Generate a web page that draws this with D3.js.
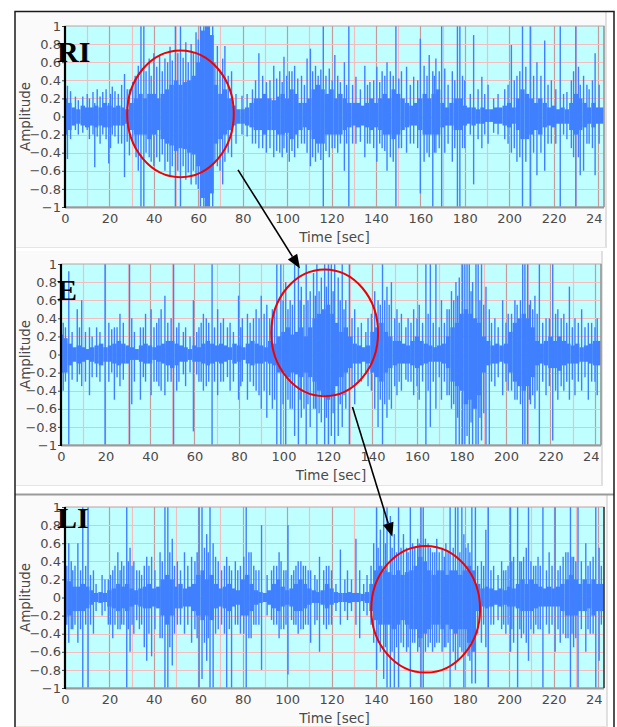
<!DOCTYPE html>
<html>
<head>
<meta charset="utf-8">
<script src="https://cdn.jsdelivr.net/npm/d3@7"></script>
<style>
  body { margin: 0; background: #fff; }
  svg { display: block; }
  text { font-family: "DejaVu Sans", Verdana, sans-serif; }
</style>
</head>
<body>
<div id="chart"></div>
<script>
// time bins of the dense part of each trace (seconds)
const binTimes = d3.range(0, 241, 2);
const tMax = 242.7;

// RI trace: upper / lower envelope of the dense body, per 2 s bin
const riTop = [
  .2, .15, .1, .08, .12, .1, .1, .12, .1, .15,
  .12, .1, .12, .1, .08, .15, .2, .25, .2, .25,
  .25, .2, .25, .3, .35, .4, .35, .38, .4, .45,
  .6, .95, 1, .9, .35, .25, .3, .2, .12, .08,
  .08, .1, .15, .2, .2, .25, .2, .18, .22, .25,
  .2, .3, .25, .15, .15, .2, .3, .35, .3, .25,
  .3, .2, .25, .2, .15, .15, .15, .12, .15, .2,
  .15, .2, .25, .2, .3, .25, .2, .15, .12, .15,
  .2, .25, .2, .25, .3, .15, .1, .15, .2, .2,
  .12, .1, .1, .08, .1, .08, .08, .1, .1, .12,
  .15, .1, .2, .3, .25, .2, .15, .2, .15, .1,
  .12, .08, .1, .08, .15, .25, .2, .15, .1, .15,
  .1
];
const riBot = [
  -.2, -.15, -.1, -.08, -.1, -.12, -.1, -.12, -.1, -.12,
  -.12, -.1, -.1, -.1, -.08, -.15, -.2, -.2, -.2, -.25,
  -.2, -.15, -.25, -.3, -.32, -.38, -.35, -.36, -.4, -.42,
  -.55, -.9, -1, -.85, -.3, -.25, -.2, -.15, -.1, -.08,
  -.08, -.1, -.12, -.15, -.15, -.2, -.15, -.15, -.2, -.2,
  -.18, -.25, -.2, -.15, -.12, -.15, -.25, -.3, -.3, -.2,
  -.2, -.2, -.2, -.15, -.12, -.1, -.12, -.1, -.12, -.15,
  -.12, -.15, -.2, -.2, -.25, -.2, -.15, -.12, -.1, -.1,
  -.15, -.2, -.2, -.2, -.2, -.12, -.1, -.1, -.15, -.15,
  -.1, -.08, -.1, -.08, -.08, -.06, -.06, -.08, -.08, -.1,
  -.12, -.08, -.15, -.25, -.25, -.2, -.15, -.2, -.12, -.1,
  -.12, -.08, -.08, -.08, -.15, -.2, -.15, -.12, -.08, -.12,
  -.08
];
// RI single spikes: [time, max, min]
const riSpikes = [
  [1.1, .34, -.47], [4.7, .22, -.15], [10, .25, -.15], [12.6, .27, -.2], [13.4, .15, -.56],
  [17, .27, -.2], [19.7, .15, -.52], [21.3, .33, -.2], [24, .25, -.3], [26.8, .47, -.67],
  [29, .3, -.43], [31.6, .45, -.35], [33, .56, -.6], [34.2, 1, -1], [35.5, 1, -1],
  [37.9, .64, -.45], [40, .7, -.55], [42.6, .68, -.5], [45, .64, -.6], [47.3, .77, -.65],
  [49.7, 1, -1], [52, 1, -1], [54.4, .82, -.7], [56.8, .8, -.75], [59, .93, -.75],
  [61, 1, -1], [62.5, 1, -1], [63.5, 1, -1], [65, 1, -1], [66.5, 1, -1],
  [68.6, .78, -.55], [71, .64, -.75], [72, .78, -.5], [75, .5, -.45], [79.7, .23, -.2],
  [84.4, .3, -.3], [87.3, .7, -.35], [90.7, .38, -.4], [94, .56, -.45], [96.7, .5, -.4],
  [98.6, .66, -.35], [101, .5, -.5], [103.4, .56, -.45], [106.5, .45, -.3], [109, .64, -.4],
  [110.5, .75, -.55], [112.8, .56, -.5], [116.3, 1, -1], [119, .53, -.45], [121.5, .68, -.35],
  [124, .38, -.3], [125.8, .6, -.6], [127.8, 1, -1], [131, .44, -.3], [135, .56, -.45],
  [137.3, .38, -.3], [140.4, .55, -.5], [142.8, .5, -.35], [145, .6, -.6], [149, 1, -1],
  [151.5, .5, -.35], [153.8, .55, -.4], [157, .44, -.3], [160, .86, -.85], [161.7, .56, -.5],
  [164, .68, -.45], [165.6, .5, -1], [167, .64, -.4], [169.6, 1, -1], [171, .53, -.4],
  [174.4, .5, -.5], [176.7, 1, -1], [177.8, 1, -1], [180, .4, -.35], [184, .9, -.75],
  [187.7, .44, -.35], [190.5, .35, -.3], [195, .25, -.2], [198, .3, -.25], [201, .79, -.4],
  [203.5, .45, -.5], [206, 1, -1], [209.5, 1, -1], [212.5, .6, -.65], [216, .84, -.6],
  [219, .4, -.3], [223, 1, -1], [226, .27, -.25], [230, 1, -1], [232, .35, -.65],
  [233.5, .45, -.6], [236, .3, -.3], [238.7, .7, -.65]
];
// RI smaller bursts standing out of the body
const riMinor = [
  [2.5, .28, -.25], [6, .18, -.2], [8, .22, -.18], [11, .2, -.25], [14.5, .3, -.22],
  [15.8, .22, -.3], [18.5, .3, -.25], [20.5, .25, -.35], [22.5, .28, -.22], [25.5, .35, -.3],
  [28, .3, -.28], [30.5, .38, -.3], [32, .42, -.45], [36.5, .5, -.4], [38.8, .45, -.5],
  [41.3, .55, -.45], [43.8, .5, -.42], [46.2, .6, -.5], [48.3, .62, -.55], [50.8, .7, -.6],
  [53.2, .65, -.55], [55.5, .6, -.62], [57.8, .7, -.6], [60, .85, -.8], [67.5, .6, -.5],
  [69.8, .5, -.6], [73.5, .45, -.4], [77, .25, -.3], [82, .25, -.22], [85.8, .4, -.3],
  [89, .45, -.35], [92.3, .4, -.35], [95.3, .42, -.38], [97.8, .38, -.45], [99.8, .45, -.4],
  [102.2, .5, -.38], [104.8, .42, -.35], [107.8, .35, -.3], [111.5, .5, -.45], [114, .45, -.4],
  [115.2, .52, -.48], [117.5, .45, -.38], [120.3, .4, -.35], [122.8, .45, -.4], [126.8, .35, -.3],
  [129.5, .35, -.3], [133, .3, -.28], [136.2, .35, -.3], [139, .4, -.35], [141.7, .38, -.3],
  [144, .45, -.38], [146.5, .5, -.45], [147.8, .45, -.5], [150.3, .42, -.35], [155.5, .35, -.3],
  [158.8, .4, -.35], [163, .45, -.4], [166.3, .45, -.4], [168.5, .5, -.35], [172.5, .35, -.3],
  [175.5, .4, -.35], [179, .45, -.35], [182.5, .25, -.2], [186, .3, -.25], [189, .25, -.2],
  [193, .2, -.18], [199.5, .35, -.3], [202.3, .4, -.35], [204.8, .5, -.45], [207.5, .55, -.5],
  [211, .45, -.4], [214.3, .45, -.4], [217.5, .35, -.3], [221, .3, -.3], [224.5, .25, -.2],
  [228, .4, -.35], [229, .5, -.45], [231.2, .55, -.45], [235, .35, -.3], [237.5, .4, -.35],
  [240.5, .35, -.3]
];

// E trace
const eTop = [
  .22, .18, .12, .08, .1, .08, .06, .08, .1, .12,
  .08, .1, .12, .15, .12, .1, .08, .06, .1, .12,
  .1, .08, .1, .12, .15, .15, .12, .1, .08, .06,
  .1, .08, .12, .15, .12, .1, .12, .1, .08, .12,
  .1, .08, .12, .15, .12, .1, .08, .15, .12, .2,
  .25, .3, .22, .25, .3, .2, .3, .4, .45, .5,
  .55, .45, .35, .25, .3, .2, .12, .1, .08, .1,
  .25, .3, .35, .25, .2, .15, .15, .12, .1, .15,
  .2, .15, .12, .1, .08, .1, .12, .2, .3, .35,
  .45, .5, .45, .4, .35, .2, .15, .1, .12, .1,
  .12, .25, .35, .4, .45, .4, .3, .15, .12, .15,
  .2, .15, .2, .15, .12, .1, .12, .08, .1, .12,
  .15
];
const eBot = [
  -.2, -.2, -.12, -.08, -.1, -.08, -.06, -.08, -.1, -.12,
  -.08, -.08, -.1, -.12, -.1, -.1, -.06, -.06, -.08, -.1,
  -.1, -.06, -.08, -.1, -.12, -.15, -.12, -.08, -.08, -.06,
  -.08, -.08, -.1, -.12, -.1, -.08, -.1, -.08, -.06, -.1,
  -.08, -.06, -.1, -.12, -.1, -.1, -.08, -.1, -.12, -.2,
  -.2, -.25, -.2, -.22, -.25, -.2, -.25, -.3, -.4, -.45,
  -.5, -.45, -.35, -.25, -.2, -.15, -.1, -.1, -.08, -.1,
  -.2, -.25, -.3, -.2, -.15, -.12, -.1, -.1, -.1, -.12,
  -.15, -.12, -.1, -.08, -.08, -.08, -.1, -.15, -.3, -.35,
  -.4, -.55, -.5, -.6, -.45, -.2, -.12, -.1, -.1, -.08,
  -.1, -.2, -.3, -.35, -.4, -.35, -.25, -.12, -.1, -.12,
  -.15, -.15, -.18, -.12, -.1, -.1, -.1, -.08, -.08, -.1,
  -.12
];
const eSpikes = [
  [1, .35, -.4], [3.5, .92, -1], [7.3, .5, -.3], [9.3, .6, -.35], [12.8, .3, -.45],
  [16, .3, -.25], [19.8, 1, -1], [21.5, .35, -.3], [24, .3, -.5], [26.5, .45, -.35],
  [30.8, 1, -1], [31.8, .4, -.55], [35.7, .3, -.5], [38, .45, -.3], [40.5, .5, -.45],
  [43, .35, -.3], [45, .5, -.4], [46.7, .65, -.45], [50.6, 1, -1], [53, .35, -.3],
  [56, .3, -.35], [59.5, .6, -.85], [62, .3, -.3], [64, .45, -.4], [66.4, .35, -.3],
  [67.9, 1, -1], [70.4, .5, -.45], [73, .4, -.3], [76, .35, -.4], [79.8, .65, -.5],
  [81.5, .4, -.3], [83.8, .45, -.5], [87.7, .5, -.4], [90, .65, -.6], [92.5, .55, -.7],
  [95, .5, -.6], [97, 1, -1], [98.8, 1, -1], [101, .8, -1], [103, .6, -.6],
  [105, 1, -.9], [106.7, 1, -1], [108, .75, -.7], [110.2, 1, -1], [112, .7, -.8],
  [113.5, .9, -.6], [115, 1, -1], [117, .85, -.75], [118.5, 1, -1], [120.2, 1, -1],
  [121.5, 1, -.9], [123, 1, -1], [124.6, .85, -.9], [126.4, 1, -.8], [128, .6, -.6],
  [129.6, 1, -1], [132, .5, -.55], [135, .35, -.3], [138, .4, -.35], [141, .7, -.6],
  [142.5, .6, -.8], [144.5, 1, -1], [146.5, .75, -.7], [148.5, .8, -.6], [151, .5, -.45],
  [153, .45, -.4], [156, .4, -.3], [158.5, .5, -.45], [161, .55, -.5], [164, 1, -1],
  [166, 1, -.8], [168.5, 1, -.6], [171, .6, -.5], [173.5, .5, -.45], [175.5, .7, -.6],
  [177.5, .8, -1], [179, .85, -1], [180.5, 1, -1], [181.5, 1, -1], [182.5, 1, -.9],
  [183.5, 1, -1], [185, .8, -1], [186.5, 1, -1], [187.5, 1, -1], [189, 1, -.95],
  [191, .75, -1], [192.5, .5, -1], [195, .4, -.35], [198.5, .6, -.45], [201, .45, -.4],
  [204, .6, -.5], [207.5, 1, -1], [208.5, 1, -1], [209.7, 1, -1], [211, .6, -.55],
  [213, .65, -.6], [215, 1, -1], [218, .4, -.45], [221, 1, -.95], [223.3, .5, -.5],
  [226, .45, -.4], [228.5, .75, -.5], [231, .4, -.45], [234, .5, -.4], [237, .35, -.5],
  [241, .4, -.45]
];
const eMinor = [
  [2, .3, -.3], [5, .25, -.28], [8.3, .3, -.22], [11, .25, -.3], [14, .2, -.25],
  [17.5, .25, -.3], [22.8, .28, -.2], [25.2, .3, -.25], [28, .35, -.28], [33, .25, -.3],
  [37, .3, -.25], [41.8, .3, -.3], [44, .4, -.35], [48, .35, -.3], [49.5, .4, -.3],
  [52, .3, -.4], [55, .25, -.22], [58, .2, -.2], [61, .25, -.22], [63, .35, -.3],
  [65.3, .4, -.35], [69, .3, -.3], [71.8, .35, -.3], [74.8, .3, -.25], [77.5, .25, -.3],
  [80.8, .3, -.35], [85, .35, -.3], [86.5, .4, -.35], [89, .4, -.45], [91.3, .45, -.4],
  [93.8, .4, -.45], [96, .5, -.5], [99.8, .6, -.55], [102, .5, -.5], [104, .55, -.6],
  [107.5, .6, -.5], [109.2, .55, -.6], [111, .6, -.55], [114.3, .65, -.6], [116, .7, -.65],
  [119.3, .75, -.7], [122.3, .7, -.65], [125.5, .6, -.55], [127.2, .5, -.45], [130.8, .4, -.35],
  [133.5, .3, -.3], [137, .25, -.22], [139.5, .45, -.4], [143.5, .55, -.5], [145.5, .6, -.55],
  [147.5, .55, -.5], [150, .4, -.35], [152, .35, -.3], [155, .3, -.28], [157.3, .35, -.3],
  [160, .4, -.35], [162.5, .35, -.3], [165, .45, -.4], [167.3, .35, -.3], [170, .3, -.25],
  [172.3, .35, -.3], [174.5, .5, -.45], [176.5, .6, -.55], [178.3, .65, -.7], [184.3, .7, -.75],
  [188.3, .6, -.7], [190, .55, -.65], [193.5, .35, -.3], [196.5, .3, -.25], [200, .35, -.3],
  [202.5, .45, -.4], [205, .55, -.5], [206.5, .6, -.55], [210.5, .55, -.5], [212, .5, -.45],
  [214, .45, -.4], [216.5, .35, -.3], [219.5, .4, -.35], [222.3, .45, -.4], [224.8, .4, -.35],
  [227.3, .35, -.3], [229.8, .3, -.28], [232.5, .35, -.3], [235.5, .3, -.25], [238.5, .35, -.3],
  [240, .3, -.3]
];

// LI trace
const liTop = [
  .2, .18, .12, .12, .15, .12, .08, .05, .06, .05,
  .08, .1, .15, .12, .15, .1, .08, .1, .12, .15,
  .1, .12, .2, .25, .2, .12, .15, .1, .12, .15,
  .25, .3, .2, .25, .15, .1, .12, .15, .1, .08,
  .2, .25, .15, .08, .06, .05, .08, .15, .2, .12,
  .08, .1, .15, .2, .15, .1, .08, .06, .08, .15,
  .1, .06, .05, .05, .06, .05, .05, .04, .06, .15,
  .3, .35, .3, .28, .25, .3, .25, .28, .3, .35,
  .45, .4, .3, .25, .3, .3, .25, .3, .3, .25,
  .3, .35, .3, .15, .1, .12, .1, .08, .1, .08,
  .12, .1, .15, .2, .15, .2, .15, .12, .1, .12,
  .1, .12, .15, .2, .25, .2, .15, .2, .15, .2,
  .15
];
const liBot = [
  -.22, -.2, -.15, -.15, -.15, -.12, -.08, -.05, -.06, -.05,
  -.1, -.12, -.15, -.12, -.15, -.1, -.08, -.1, -.12, -.12,
  -.1, -.12, -.2, -.3, -.2, -.12, -.12, -.1, -.1, -.15,
  -.2, -.25, -.2, -.25, -.12, -.1, -.12, -.15, -.1, -.08,
  -.2, -.2, -.15, -.08, -.06, -.05, -.08, -.12, -.15, -.1,
  -.08, -.1, -.15, -.15, -.12, -.08, -.06, -.06, -.08, -.12,
  -.08, -.06, -.05, -.05, -.06, -.05, -.05, -.04, -.06, -.15,
  -.25, -.3, -.3, -.3, -.35, -.3, -.25, -.3, -.35, -.35,
  -.45, -.4, -.35, -.3, -.3, -.35, -.3, -.35, -.4, -.35,
  -.35, -.5, -.6, -.15, -.1, -.12, -.1, -.08, -.1, -.08,
  -.1, -.1, -.12, -.15, -.15, -.15, -.12, -.1, -.1, -.1,
  -.1, -.1, -.15, -.2, -.2, -.2, -.15, -.15, -.12, -.2,
  -.15
];
const liSpikes = [
  [1.7, .6, -.5], [3.5, .3, -.35], [5.8, .6, -.5], [8, 1, -1], [10.4, 1, -1],
  [12.8, .3, -.4], [16.7, .25, -.2], [19.5, .2, -.3], [21.5, .3, -.45], [23.8, .5, -.35],
  [25.5, .4, -.3], [27.8, 1, -1], [29.3, .55, -.6], [31, .4, -.4], [33.5, .3, -.35],
  [35.7, .35, -.55], [36.8, .45, -.7], [39, .45, -.65], [42.8, .5, -.45], [45, 1, -1],
  [46.3, 1, -1], [48.3, .65, -.75], [50.6, .4, -.3], [53.8, .5, -.4], [57, .45, -.5],
  [60.4, 1, -1], [61.7, 1, -.9], [63.8, .7, -.7], [65.3, 1, -1], [66.7, .6, -1],
  [69, .4, -.35], [72.8, .45, -1], [75, .3, -1], [76.7, .4, -.3], [79, .35, -.4],
  [81.6, 1, -1], [83.8, .5, -.45], [86, .3, -.3], [88.5, .8, -.8], [91, .25, -.2],
  [94, .35, -.3], [96.4, .5, -.45], [98.5, .3, -.35], [100.4, .8, -.85], [103, .3, -.3],
  [105, .4, -.4], [108.3, .35, -.3], [110.6, .3, -.5], [112.5, .25, -.3], [114.6, .45, -.6],
  [117.7, .35, -.35], [120, .3, -.3], [124, .53, -.3], [127.2, .3, -.25], [131, .65, -.3],
  [132.7, .3, -.45], [136, .25, -.2], [139, .6, -.5], [140.3, 1, -.8], [142, .75, -.6],
  [143.5, 1, -.9], [145, 1, -1], [146.5, .9, -1], [148.3, .7, -1], [150.2, 1, -1],
  [152.4, .7, -.55], [153.8, .55, -.6], [155.5, 1, -1], [157.5, .55, -.5], [158.8, .65, -.6],
  [160.3, 1, -1], [161.3, 1, -1], [163.5, .6, -.55], [165.5, .5, -.6], [167.4, .65, -.5],
  [169.8, .55, -.6], [171.5, .6, -.55], [173.4, 1, -1], [175.8, 1, -.8], [176.9, 1, -.7],
  [178.7, 1, -.6], [179.6, .7, -1], [181.5, .6, -.65], [183.2, 1, -.95], [184.8, 1, -.95],
  [187.5, .4, -.5], [189.5, .75, -.55], [190.6, 1, -1], [193, .35, -.3], [196.6, .4, -.35],
  [198.5, .3, -.4], [200.6, 1, -.6], [202, .45, -.5], [203.8, 1, -1], [205.5, .4, -.45],
  [207.7, .55, -.5], [208.7, 1, -.7], [211, .35, -.4], [213, .45, -.35], [215.2, 1, -1],
  [218, .5, -.4], [220.7, 1, -.6], [223, .35, -.5], [225.5, .5, -.45], [227.6, 1, -1],
  [229, .45, -.55], [231, 1, -1], [234.5, .6, -.6], [236.5, .4, -.4], [239, 1, -1],
  [240.5, .55, -.7]
];
const liMinor = [
  [0.8, .35, -.3], [2.8, .4, -.35], [4.5, .35, -.3], [7, .3, -.35], [9.3, .35, -.3],
  [11.5, .25, -.3], [14, .15, -.15], [18, .2, -.15], [20.5, .25, -.3], [22.5, .35, -.3],
  [24.8, .3, -.35], [26.5, .35, -.3], [28.5, .4, -.35], [30.2, .35, -.3], [32.3, .3, -.25],
  [34.5, .25, -.3], [37.8, .35, -.4], [40.5, .3, -.35], [43.8, .4, -.45], [47.2, .5, -.55],
  [49.3, .35, -.4], [52, .3, -.3], [55.3, .35, -.3], [58.5, .4, -.35], [59.5, .5, -.45],
  [62.8, .55, -.5], [64.5, .5, -.45], [67.8, .45, -.4], [70.5, .3, -.3], [71.8, .35, -.4],
  [74, .35, -.35], [77.8, .3, -.3], [80.5, .45, -.4], [82.8, .5, -.45], [85, .35, -.3],
  [87.3, .3, -.3], [93, .3, -.25], [95.3, .35, -.3], [97.3, .4, -.35], [99.5, .3, -.3],
  [102, .25, -.25], [104, .35, -.3], [106.2, .4, -.35], [107.3, .35, -.35], [109.5, .3, -.3],
  [113.5, .2, -.25], [116.5, .3, -.3], [118.8, .35, -.3], [122, .15, -.15], [126, .2, -.15],
  [129, .2, -.15], [134.5, .15, -.15], [137.8, .35, -.3], [141, .55, -.5], [144.3, .6, -.55],
  [147.3, .55, -.6], [149.3, .5, -.55], [151.3, .55, -.5], [154.5, .5, -.55], [156.5, .6, -.5],
  [159.5, .6, -.55], [162.3, .65, -.6], [164.5, .55, -.5], [166.5, .5, -.55], [168.5, .5, -.5],
  [170.8, .45, -.55], [172.5, .5, -.5], [174.8, .55, -.6], [177.8, .5, -.55], [180.5, .55, -.6],
  [182.3, .5, -.7], [185.8, .35, -.4], [188.5, .35, -.3], [191.8, .3, -.3], [195, .25, -.25],
  [197.5, .3, -.3], [199.5, .35, -.3], [201.2, .4, -.35], [204.8, .4, -.35], [206.5, .45, -.4],
  [209.8, .4, -.35], [212, .35, -.3], [214, .35, -.35], [216.8, .3, -.3], [219.3, .35, -.3],
  [222, .3, -.35], [224.3, .45, -.4], [226.5, .5, -.45], [228.3, .45, -.4], [230, .4, -.45],
  [232.5, .4, -.35], [235.5, .35, -.35], [237.8, .45, -.4], [241.5, .35, -.3]
];

const timeTicks = d3.range(0, 241, 20);
const gridTimes = d3.range(10, 241, 10);
const ampTicks = [1, 0.8, 0.6, 0.4, 0.2, 0, -0.2, -0.4, -0.6, -0.8, -1];
const panelNames = ["RI", "E", "LI"];
// highlighted region per panel: [centre time, centre amplitude, half width (s), half height]
const ellipses = [[52, 0.03, 24, 0.7], [118.5, 0.24, 24, 0.7], [162.4, -0.13, 24.5, 0.7]];
// arrows between panels: [panel, time, amplitude]
const arrows = [
  { from: [0, 77.9, -0.59], to: [1, 107.4, 0.95] },
  { from: [1, 131, -0.58], to: [2, 147.4, 0.67] }
];

const width = 617, height = 727;
const blue = "#4080ff";

const layout = [
  { box: [16, 12, 606, 248], plot: { l: 65, t: 26, r: 604, b: 207 }, labelY: 62 },
  { box: [16, 251, 602, 486], plot: { l: 61, t: 264, r: 601, b: 445 }, labelY: 300 },
  { box: [16, 495, 607, 727], plot: { l: 65, t: 507, r: 604, b: 688 }, labelY: 528 }
];
const traces = [
  { top: riTop, bot: riBot, spikes: riSpikes.concat(riMinor) },
  { top: eTop, bot: eBot, spikes: eSpikes.concat(eMinor) },
  { top: liTop, bot: liBot, spikes: liSpikes.concat(liMinor) }
];

const svg = d3.select("#chart").append("svg")
  .attr("width", width).attr("height", height);
svg.append("rect").attr("width", width).attr("height", height).attr("fill", "#fff");

const xs = [], ys = [];

layout.forEach(function (p, k) {
  const P = p.plot;
  const x = d3.scaleLinear().domain([0, tMax]).range([P.l, P.r]);
  const y = d3.scaleLinear().domain([-1, 1]).range([P.b, P.t]);
  xs.push(x); ys.push(y);

  // panel box
  svg.append("rect")
    .attr("x", p.box[0]).attr("y", p.box[1])
    .attr("width", p.box[2] - p.box[0]).attr("height", p.box[3] - p.box[1])
    .attr("fill", "#fafafa");
  svg.append("line")
    .attr("x1", p.box[2]).attr("x2", p.box[2]).attr("y1", p.box[1]).attr("y2", p.box[3])
    .attr("stroke", "#c4c4c4");
  svg.append("line")
    .attr("x1", p.box[0]).attr("x2", p.box[2]).attr("y1", p.box[3] - 0.5).attr("y2", p.box[3] - 0.5)
    .attr("stroke", "#ebe5d5");

  const g = svg.append("g");

  g.append("rect")
    .attr("x", P.l).attr("y", P.t).attr("width", P.r - P.l).attr("height", P.b - P.t)
    .attr("fill", "#c0ffff");

  // grid
  g.selectAll(".vg").data(gridTimes).enter().append("line")
    .attr("x1", d => Math.round(x(d)) + 0.5).attr("x2", d => Math.round(x(d)) + 0.5)
    .attr("y1", P.t).attr("y2", P.b)
    .attr("stroke", d => d % 20 === 0 ? "#c49a9a" : "#f4bcbc")
    .attr("stroke-width", 1.2);
  g.selectAll(".hg").data(ampTicks.filter(d => Math.abs(d) < 1)).enter().append("line")
    .attr("x1", P.l).attr("x2", P.r)
    .attr("y1", d => Math.round(y(d)) + 0.5).attr("y2", d => Math.round(y(d)) + 0.5)
    .attr("stroke", "#f4bcbc").attr("stroke-width", 1.2);

  // waveform
  const clipId = "clip" + k;
  svg.append("clipPath").attr("id", clipId).append("rect")
    .attr("x", P.l).attr("y", P.t).attr("width", P.r - P.l).attr("height", P.b - P.t);
  const wave = g.append("g").attr("clip-path", "url(#" + clipId + ")");
  const tr = traces[k];
  const n = binTimes.length;

  wave.selectAll(".bin").data(binTimes).enter().append("rect")
    .attr("x", (d, i) => Math.max(P.l, x(d - 1)))
    .attr("width", (d, i) => (i === n - 1 ? P.r : x(d + 1)) - Math.max(P.l, x(d - 1)))
    .attr("y", (d, i) => y(tr.top[i]))
    .attr("height", (d, i) => y(tr.bot[i]) - y(tr.top[i]))
    .attr("fill", blue);

  wave.selectAll(".spike").data(tr.spikes).enter().append("line")
    .attr("x1", d => x(d[0])).attr("x2", d => x(d[0]))
    .attr("y1", d => y(d[1])).attr("y2", d => y(d[2]))
    .attr("stroke", blue).attr("stroke-width", 1.4);

  // frame of plot
  g.append("rect")
    .attr("x", P.l).attr("y", P.t).attr("width", P.r - P.l).attr("height", P.b - P.t)
    .attr("fill", "none").attr("stroke", "#b9a2a2");
  g.append("line")
    .attr("x1", P.l).attr("x2", P.r).attr("y1", P.b + 0.5).attr("y2", P.b + 0.5)
    .attr("stroke", "#9a9a9a").attr("stroke-width", 2);
  g.append("line")
    .attr("x1", P.r).attr("x2", P.r).attr("y1", P.t).attr("y2", P.b)
    .attr("stroke", k === 2 ? "#333" : "#9a9a9a").attr("stroke-width", 1.5);

  // y axis
  const yAxis = d3.axisLeft(y).tickValues(ampTicks).tickSize(3).tickPadding(1)
    .tickFormat(d => d3.format("")(Math.round(d * 10) / 10));
  const ya = g.append("g").attr("transform", "translate(" + P.l + ",0)").call(yAxis);
  ya.select(".domain").remove();
  ya.selectAll(".tick line").attr("stroke", "#444");
  ya.selectAll(".tick text").attr("fill", "#4a4a4a").attr("font-size", 13)
    .attr("font-family", "DejaVu Sans");
  g.append("line")
    .attr("x1", P.l).attr("x2", P.l).attr("y1", P.t).attr("y2", P.b + 1)
    .attr("stroke", "#000").attr("stroke-width", 2.2);

  // x axis (last label cut by the plot edge)
  const xClip = "xclip" + k;
  svg.append("clipPath").attr("id", xClip).append("rect")
    .attr("x", P.l - 20).attr("y", -2).attr("width", P.r - P.l + 18).attr("height", 30);
  const xAxis = d3.axisBottom(x).tickValues(timeTicks).tickSize(0).tickPadding(6.5)
    .tickFormat(d3.format("d"));
  const xa = g.append("g").attr("transform", "translate(0," + P.b + ")")
    .attr("clip-path", "url(#" + xClip + ")").call(xAxis);
  xa.select(".domain").remove();
  xa.selectAll(".tick text").attr("fill", "#4a4a4a").attr("font-size", 13)
    .attr("font-family", "DejaVu Sans");

  // titles
  g.append("text")
    .attr("x", (P.l + P.r) / 2).attr("y", P.b + 35)
    .attr("text-anchor", "middle").attr("font-size", 13.5).attr("fill", "#4a4a4a")
    .text("Time [sec]");
  g.append("text")
    .attr("transform", "translate(" + 30 + "," + (P.t + P.b) / 2 + ") rotate(-90)")
    .attr("text-anchor", "middle").attr("font-size", 13.5).attr("fill", "#4a4a4a")
    .text("Amplitude");

  // panel name, drawn over the tick labels as in the source
  g.append("text")
    .attr("x", 57).attr("y", p.labelY)
    .style("font-family", "'Liberation Serif', 'Times New Roman', serif")
    .attr("font-weight", "bold").attr("font-size", 30).attr("fill", "#000")
    .text(panelNames[k]);

  // highlight ellipse
  const e = ellipses[k];
  g.append("ellipse")
    .attr("cx", x(e[0])).attr("cy", y(e[1]))
    .attr("rx", x(e[0] + e[2]) - x(e[0])).attr("ry", y(e[1] - e[3]) - y(e[1]))
    .attr("fill", "none").attr("stroke", "#f00000").attr("stroke-width", 2);
});

// separator above last panel and outer border
svg.append("line").attr("x1", 15).attr("x2", 614).attr("y1", 494.5).attr("y2", 494.5)
  .attr("stroke", "#9a9a9a").attr("stroke-width", 2);
svg.append("path")
  .attr("d", "M15,727V11.5H614V727")
  .attr("fill", "none").attr("stroke", "#1a1a1a").attr("stroke-width", 1.5);

// arrows between panels
arrows.forEach(function (a) {
  const x1 = xs[a.from[0]](a.from[1]), y1 = ys[a.from[0]](a.from[2]);
  const x2 = xs[a.to[0]](a.to[1]), y2 = ys[a.to[0]](a.to[2]);
  const ang = Math.atan2(y2 - y1, x2 - x1);
  const len = 14, half = 5.5;
  const bx = x2 - len * Math.cos(ang), by = y2 - len * Math.sin(ang);
  svg.append("line")
    .attr("x1", x1).attr("y1", y1).attr("x2", bx).attr("y2", by)
    .attr("stroke", "#000").attr("stroke-width", 1.6);
  svg.append("path")
    .attr("d", d3.line()([
      [x2, y2],
      [bx + half * Math.sin(ang), by - half * Math.cos(ang)],
      [bx - half * Math.sin(ang), by + half * Math.cos(ang)]
    ]) + "Z")
    .attr("fill", "#000");
});
</script>
</body>
</html>
